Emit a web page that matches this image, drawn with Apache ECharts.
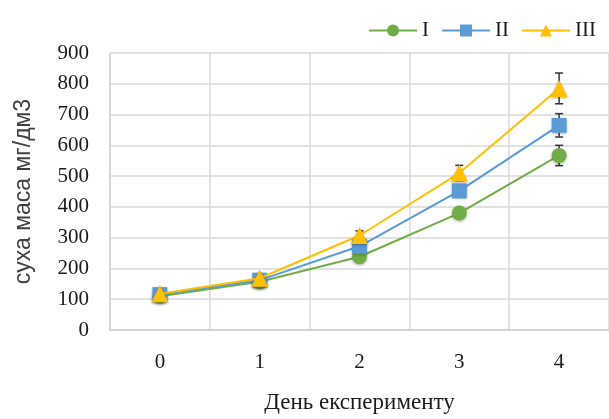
<!DOCTYPE html>
<html><head><meta charset="utf-8">
<script src="https://cdn.jsdelivr.net/npm/echarts@6/dist/echarts.min.js"></script>
<style>html,body{margin:0;padding:0;background:#fff}#c{width:609px;height:419px}</style>
</head><body><div id="c"></div>
<script>
const categories = ['0','1','2','3','4'];
const seriesNames = ['I','II','III'];
const valuesI = [110, 157, 238, 380, 567];
const valuesII = [115, 162, 272, 452, 665];
const valuesIII = [118, 168, 307, 510, 785];
const errI = [5, 8, 10, 12, 33];
const errII = [5, 8, 12, 18, 38];
const errIII = [6, 8, 15, 25, 50];
const colors = ['#70AD47', '#5B9BD5', '#FFC000'];
const symbols = ['circle', 'rect', 'triangle'];
const symbolSizes = [15, 15, 17];

const allVals = [valuesI, valuesII, valuesIII];
const allErr = [errI, errII, errIII];
const serif = '"Liberation Serif", "Times New Roman", serif';

const series = [];
allVals.forEach((vals, i) => {
  series.push({
    name: seriesNames[i], type: 'line', data: vals, z: 3 + i,
    symbol: symbols[i], symbolSize: symbolSizes[i],
    lineStyle: {color: colors[i], width: 2},
    itemStyle: {color: colors[i], shadowColor: 'rgba(0,0,0,0.35)', shadowBlur: 3, shadowOffsetY: 1}
  });
  series.push({
    type: 'custom', z: 2 + i, silent: true,
    data: vals.map((v, k) => [k, v - allErr[i][k], v + allErr[i][k]]),
    renderItem: function (params, api) {
      const lo = api.coord([api.value(0), api.value(1)]);
      const hi = api.coord([api.value(0), api.value(2)]);
      const w = 4;
      const st = {stroke: '#333', lineWidth: 1.5};
      return {type: 'group', children: [
        {type: 'line', shape: {x1: lo[0], y1: lo[1], x2: hi[0], y2: hi[1]}, style: st},
        {type: 'line', shape: {x1: lo[0]-w, y1: lo[1], x2: lo[0]+w, y2: lo[1]}, style: st},
        {type: 'line', shape: {x1: hi[0]-w, y1: hi[1], x2: hi[0]+w, y2: hi[1]}, style: st}
      ]};
    }
  });
});

const chart = echarts.init(document.getElementById('c'));
chart.setOption({
  animation: false,
  color: colors,
  legend: {
    data: seriesNames, top: 15, right: 8, itemWidth: 48, itemHeight: 15, itemGap: 12,
    textStyle: {fontFamily: serif, fontSize: 21, color: '#1a1a1a'}
  },
  grid: {left: 110, right: -5, top: 53, bottom: 83},
  xAxis: {
    type: 'category', data: categories, boundaryGap: true,
    name: 'День експерименту', nameLocation: 'middle', nameGap: 61,
    nameTextStyle: {fontFamily: serif, fontSize: 23, color: '#1a1a1a'},
    axisLine: {lineStyle: {color: '#d0d0d0', width: 1.5}},
    axisTick: {show: false},
    axisLabel: {fontFamily: serif, fontSize: 21, color: '#1a1a1a', margin: 22},
    splitLine: {show: true, lineStyle: {color: '#d9d9d9', width: 1.5}}
  },
  yAxis: {
    type: 'value', min: 0, max: 900, interval: 100,
    name: 'суха маса мг/дм3', nameLocation: 'middle', nameGap: 75, nameRotate: 90,
    nameTextStyle: {fontFamily: '"Liberation Sans", Arial, sans-serif', fontSize: 23, color: '#404040'},
    axisLine: {show: true, lineStyle: {color: '#d0d0d0', width: 1.5}},
    axisTick: {show: false},
    axisLabel: {fontFamily: serif, fontSize: 21, color: '#1a1a1a', margin: 21},
    splitLine: {lineStyle: {color: '#d9d9d9', width: 1.5}}
  },
  series: series
});
</script></body></html>
